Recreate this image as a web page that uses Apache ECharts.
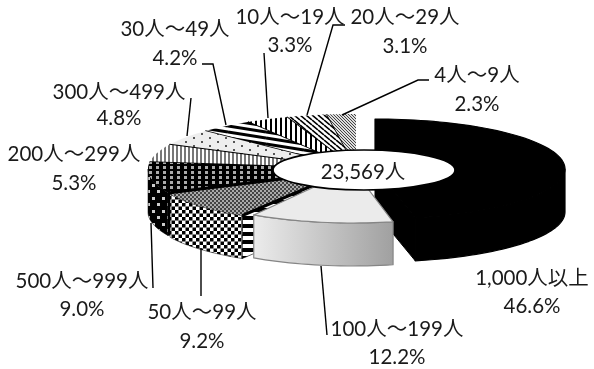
<!DOCTYPE html>
<html lang="ja">
<head>
<meta charset="UTF-8">
<title>23,569人</title>
<script src="https://cdn.jsdelivr.net/npm/echarts@6/dist/echarts.min.js"></script>
<style>
html, body { margin: 0; padding: 0; background: #fff; }
#main { width: 594px; height: 369px; }
</style>
</head>
<body>
<div id="main"></div>
<script>
// clockwise from 12 o'clock
var categories = ['1,000人以上', '100人～199人', '50人～99人', '500人～999人', '200人～299人',
    '300人～499人', '30人～49人', '10人～19人', '20人～29人', '4人～9人'];
var shares = [46.6, 12.2, 9.2, 9.0, 5.3, 4.8, 4.2, 3.3, 3.1, 2.3];
var totalLabel = '23,569人';

// back to front, index into categories
var drawOrder = [9, 8, 7, 6, 5, 4, 3, 0, 2, 1];

var restPie = { cx: 356, cy: 169, rx: 208, ry: 55 };
var pieGeometry = [
    { cx: 375, cy: 169, rx: 190, ry: 50 },
    { cx: 353, cy: 169, rx: 189, ry: 54 },
    { cx: 342, cy: 173, rx: 190, ry: 50 },
    restPie, restPie, restPie, restPie, restPie, restPie, restPie
];
var pieDepth = 43;

// label centre x, first line y, second line y
var labelPos = [
    [532, 278, 306], [397, 329, 357], [202, 312, 341], [82, 281, 309], [74, 154, 183],
    [119, 92, 118], [175, 29, 58], [290, 17, 45], [405, 17, 46], [477, 75, 104]
];
var leaderLines = [
    [[202, 64], [213, 64], [226, 125]],
    [[264, 53], [268, 118]],
    [[191, 98], [187, 136]],
    [[345, 25], [333, 25], [307, 115]],
    [[429, 80], [418, 80], [342, 115]],
    [[153, 288], [151, 223]],
    [[201, 296], [201, 248]],
    [[327, 335], [321, 266]]
];
var labelFont = '20.5px Lato, "Noto Sans CJK JP"';

function tile(w, h, bg, draw) {
    var c = document.createElement('canvas');
    c.width = w;
    c.height = h;
    var g = c.getContext('2d');
    g.fillStyle = bg;
    g.fillRect(0, 0, w, h);
    draw(g);
    return { image: c, repeat: 'repeat' };
}
function vStripes(period, dark) {
    return tile(period, 4, '#fff', function (g) {
        g.fillStyle = '#000';
        g.fillRect(0, 0, dark, 4);
    });
}
function slanted(w, h, lineW) {
    // one stripe running down to the right across the tile
    return tile(w, h, '#fff', function (g) {
        g.strokeStyle = '#000';
        g.lineWidth = lineW;
        for (var k = -1; k <= 1; k++) {
            g.beginPath();
            g.moveTo(0, k * h);
            g.lineTo(w, k * h + h);
            g.stroke();
        }
    });
}
function dots(w, h, bg, color, size) {
    return tile(w, h, bg, function (g) {
        g.fillStyle = color;
        g.fillRect(1, 1, size, size);
        g.fillRect(1 + w / 2, 1 + h / 2, size, size);
    });
}
function checker(n, dark, light) {
    return tile(Math.round(n * 2), Math.round(n * 2), light, function (g) {
        g.fillStyle = dark;
        g.fillRect(0, 0, n, n);
        g.fillRect(n, n, n, n);
    });
}

var lightSide = new echarts.graphic.LinearGradient(0, 0, 1, 0, [
    { offset: 0, color: '#ececec' },
    { offset: 1, color: '#a0a0a0' }
]);
var sliceFill = [
    { top: '#000', side: '#000', cut: '#000', line: '#000' },
    { top: '#ebebeb', side: lightSide, cut: '#888', line: '#858585' },
    { top: checker(2, '#444', '#aaa'), side: checker(3.5, '#000', '#fff'),
      cut: tile(4, 8, '#fff', function (g) { g.fillStyle = '#000'; g.fillRect(0, 0, 4, 4); }), line: '#000' },
    { top: tile(7, 5, '#000', function (g) { g.fillStyle = '#aaa'; g.fillRect(2, 1, 3, 3); }),
      side: tile(10, 13, '#000', function (g) { g.fillStyle = '#ccc'; g.fillRect(2, 2, 3, 3); g.fillRect(7, 8, 3, 3); }),
      cut: '#000', line: '#000' },
    { top: tile(4, 4, '#fff', function (g) { g.fillStyle = '#777'; g.fillRect(0, 0, 2, 4); }), side: '#666', cut: '#666', line: '#000' },
    { top: dots(16, 8, '#eee', '#555', 2), side: '#888', cut: '#888', line: '#000' },
    { top: slanted(38, 6, 3), side: '#444', cut: '#444', line: '#000' },
    { top: vStripes(5, 2), side: '#444', cut: '#444', line: '#000' },
    { top: slanted(6, 5, 1.6), side: '#444', cut: '#444', line: '#000' },
    { top: tile(3, 3, '#ddd', function (g) { g.fillStyle = '#444'; g.fillRect(0, 0, 1, 1); g.fillRect(1, 1, 1, 1); g.fillRect(2, 2, 1, 1); }),
      side: '#666', cut: '#666', line: '#000' }
];

function onRim(p, deg, drop) {
    var a = deg * Math.PI / 180;
    return [p.cx + p.rx * Math.sin(a), p.cy - p.ry * Math.cos(a) + (drop || 0)];
}
function arcPoints(p, from, to, drop) {
    var pts = [];
    var n = Math.max(2, Math.ceil((to - from) / 2));
    for (var k = 0; k <= n; k++) {
        pts.push(onRim(p, from + (to - from) * k / n, drop));
    }
    return pts;
}

var sweepStart = [];
shares.reduce(function (sum, v, i) {
    sweepStart[i] = sum * 3.6;
    return sum + v;
}, 0);

function renderSlice(params, api) {
    var i = api.value(0);
    var p = pieGeometry[i];
    var from = sweepStart[i];
    var to = from + api.value(1) * 3.6;
    var fill = sliceFill[i];
    var z = drawOrder.indexOf(i);
    var children = [];

    function add(points, f, width) {
        children.push({
            type: 'polygon',
            z2: z * 10 + children.length,
            shape: { points: points },
            style: { fill: f, stroke: fill.line, lineWidth: width, lineJoin: 'round' }
        });
    }
    function addCut(deg) {
        var r = onRim(p, deg);
        add([[p.cx, p.cy], r, [r[0], r[1] + pieDepth], [p.cx, p.cy + pieDepth]], fill.cut, i === 0 ? 1 : 0.6);
    }

    if (Math.sin(from * Math.PI / 180) < -0.001) addCut(from);
    if (Math.sin(to * Math.PI / 180) > 0.001) addCut(to);

    var front0 = Math.max(from, 90);
    var front1 = Math.min(to, 270);
    if (front1 > front0) {
        var upper = arcPoints(p, front0, front1, 0);
        var lower = arcPoints(p, front0, front1, pieDepth).reverse();
        add(upper.concat(lower), fill.side, i < 2 ? 1.2 : 0.5);
    }
    add([[p.cx, p.cy]].concat(arcPoints(p, from, to, 0)), fill.top, i < 2 ? 1.2 : 0);

    // black seam along the slice's leading radius
    if (i >= 2) {
        children.push({
            type: 'polyline',
            z2: z * 10 + children.length,
            shape: { points: [[p.cx, p.cy], onRim(p, from)] },
            style: { fill: null, stroke: '#000', lineWidth: i === 2 ? 3 : 1.8 }
        });
    }

    return { type: 'group', children: children };
}

var graphicElements = [{
    type: 'ellipse',
    z: 10,
    shape: { cx: 364, cy: 170, rx: 91, ry: 20 },
    style: { fill: '#fff', stroke: '#000', lineWidth: 1.6 }
}, {
    type: 'text',
    z: 11,
    style: { x: 363, y: 172, text: totalLabel, align: 'center', verticalAlign: 'middle',
        font: labelFont, fill: '#1a1a1a' }
}];
leaderLines.forEach(function (pts) {
    graphicElements.push({
        type: 'polyline',
        z: 9,
        shape: { points: pts },
        style: { fill: null, stroke: '#000', lineWidth: 1.4 }
    });
});
categories.forEach(function (name, i) {
    var pos = labelPos[i];
    graphicElements.push({
        type: 'text',
        z: 11,
        style: { x: pos[0], y: pos[1], text: name, align: 'center', verticalAlign: 'middle',
            font: labelFont, fill: '#1a1a1a' }
    });
    graphicElements.push({
        type: 'text',
        z: 11,
        style: { x: pos[0], y: pos[2], text: shares[i].toFixed(1) + '%', align: 'center', verticalAlign: 'middle',
            font: labelFont, fill: '#1a1a1a' }
    });
});

var myChart = echarts.init(document.getElementById('main'));
myChart.setOption({
    animation: false,
    backgroundColor: '#fff',
    series: [{
        type: 'custom',
        coordinateSystem: 'none',
        renderItem: renderSlice,
        data: shares.map(function (v, i) { return [i, v]; })
    }],
    graphic: { elements: graphicElements }
});
</script>
</body>
</html>
